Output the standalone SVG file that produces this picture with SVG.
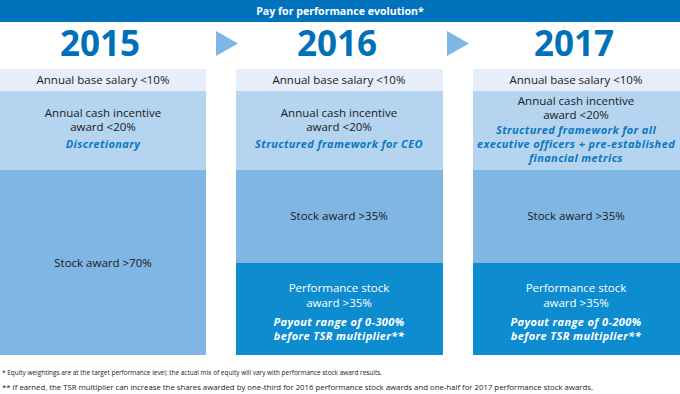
<svg xmlns="http://www.w3.org/2000/svg" width="680" height="394" viewBox="0 0 680 394">
<style>
text{font-family:"Open Sans","Noto Sans","Liberation Sans",sans-serif;text-anchor:middle}
.title{font-size:10.6px;font-weight:bold;fill:#fff}
.year{font-size:35px;font-weight:bold;fill:#0070b8}
.t{font-size:11.5px;fill:#1a1a1a}
.tw{font-size:11.5px;fill:#fff}
.bi{font-size:11px;font-weight:bold;font-style:italic;fill:#0a78c2;letter-spacing:0.38px}
.biw{font-size:11px;font-weight:bold;font-style:italic;fill:#fff;letter-spacing:0.38px}
.fn{font-size:7.5px;fill:#222;text-anchor:start}
.base{fill:#e6eff9}
.cash{fill:#b5d4ef}
.stock{fill:#80b6e3}
.perf{fill:#0d8dd0}
.arrow{fill:#80b6e3}
</style>
<rect x="0" y="0" width="680" height="22" fill="#0072bb"/>
<text class="title" x="340" y="15">Pay for performance evolution*</text>
<g id="arrows">
<polygon class="arrow" points="216,31 238,43.5 216,56"/>
<polygon class="arrow" points="447,31 469,43.5 447,56"/>
</g>
<g id="col2015">
<text class="year" x="100" y="56">2015</text>
<rect class="base" x="0" y="69" width="206" height="22"/>
<rect class="cash" x="0" y="91" width="206" height="79"/>
<rect class="stock" x="0" y="170" width="206" height="185"/>
<text class="t" x="103" y="84">Annual base salary &lt;10%</text>
<text class="t" x="103" y="117">Annual cash incentive</text>
<text class="t" x="103" y="131">award &lt;20%</text>
<text class="bi" x="103" y="148">Discretionary</text>
<text class="t" x="103" y="267">Stock award &gt;70%</text>
</g>
<g id="col2016">
<text class="year" x="337" y="56">2016</text>
<rect class="base" x="236" y="69" width="207" height="22"/>
<rect class="cash" x="236" y="91" width="207" height="79"/>
<rect class="stock" x="236" y="170" width="207" height="93"/>
<rect class="perf" x="236" y="263" width="207" height="92"/>
<text class="t" x="339" y="84">Annual base salary &lt;10%</text>
<text class="t" x="339" y="117">Annual cash incentive</text>
<text class="t" x="339" y="131">award &lt;20%</text>
<text class="bi" x="339" y="148">Structured framework for CEO</text>
<text class="t" x="339" y="220">Stock award &gt;35%</text>
<text class="tw" x="339" y="292">Performance stock</text>
<text class="tw" x="339" y="307">award &gt;35%</text>
<text class="biw" x="339" y="326">Payout range of 0-300%</text>
<text class="biw" x="339" y="340">before TSR multiplier**</text>
</g>
<g id="col2017">
<text class="year" x="574" y="56">2017</text>
<rect class="base" x="473" y="69" width="207" height="22"/>
<rect class="cash" x="473" y="91" width="207" height="79"/>
<rect class="stock" x="473" y="170" width="207" height="93"/>
<rect class="perf" x="473" y="263" width="207" height="92"/>
<text class="t" x="576" y="84">Annual base salary &lt;10%</text>
<text class="t" x="576" y="105">Annual cash incentive</text>
<text class="t" x="576" y="119">award &lt;20%</text>
<text class="bi" x="576" y="134">Structured framework for all</text>
<text class="bi" x="576" y="148">executive officers + pre-established</text>
<text class="bi" x="576" y="162">financial metrics</text>
<text class="t" x="576" y="220">Stock award &gt;35%</text>
<text class="tw" x="576" y="292">Performance stock</text>
<text class="tw" x="576" y="307">award &gt;35%</text>
<text class="biw" x="576" y="326">Payout range of 0-200%</text>
<text class="biw" x="576" y="340">before TSR multiplier**</text>
</g>
<g id="footnotes">
<text class="fn" x="2" y="375" textLength="380" lengthAdjust="spacingAndGlyphs">* Equity weightings are at the target performance level; the actual mix of equity will vary with performance stock award results.</text>
<text class="fn" x="2" y="390" textLength="591" lengthAdjust="spacingAndGlyphs">** If earned, the TSR multiplier can increase the shares awarded by one-third for 2016 performance stock awards and one-half for 2017 performance stock awards.</text>
</g>
</svg>
